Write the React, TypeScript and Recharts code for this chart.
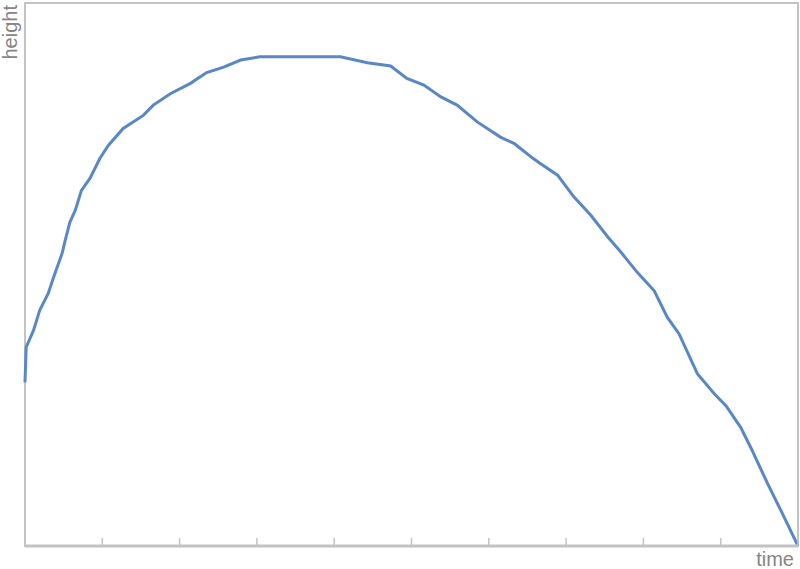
import React from 'react';
import { LineChart, Line, XAxis, YAxis, ReferenceArea } from 'recharts';

// values: time and height in 0..100 units
const times = [
  0, 0.15, 1.1, 1.9, 3.0, 3.7, 4.8, 5.2, 5.8, 6.5, 7.3, 8.4, 9.7, 10.8, 12.7, 15.3, 16.6, 18.8,
  21.4, 23.5, 25.7, 27.9, 30.4, 40.8, 44.3, 47.3, 49.4, 51.6, 53.8, 55.9, 58.5, 61.5, 63.3,
  64.1, 65.8, 66.7, 68.9, 71.0, 73.2, 75.4, 77.1, 79.2, 81.4, 83.1, 84.6, 87.0, 89.2, 90.7,
  92.6, 93.9, 96.1, 97.8, 100,
];
const heights = [
  30.1, 36.6, 39.7, 43.4, 46.5, 49.5, 53.9, 56.3, 59.6, 61.8, 65.5, 67.7, 71.4, 73.8, 76.9, 79.3,
  81.2, 83.3, 85.2, 87.2, 88.2, 89.5, 90.1, 90.1, 89.0, 88.4, 86.1, 84.9, 82.7, 81.2, 78.1,
  75.3, 74.1, 73.2, 71.3, 70.4, 68.3, 64.3, 60.9, 56.9, 54.1, 50.4, 47.0, 42.1, 39.1, 31.7,
  28.0, 25.8, 21.8, 18.1, 11.4, 6.5, 0,
];
const timeTicks = [0, 10, 20, 30, 40, 50, 60, 70, 80, 90, 100];

const data = times.map((t, i) => ({ time: t, height: heights[i] }));

const labelStyle = { fontFamily: '"Liberation Sans", Arial, sans-serif', fontSize: 20, fill: '#858585' };

// tick marks point up into the plot, no labels
const InnerTick = (props: any) => {
  const { x, y } = props;
  return <line x1={x} x2={x} y1={y} y2={y - 8} stroke="#c3c3c3" strokeWidth={1.5} />;
};

export default function App() {
  return (
    <div style={{ position: 'absolute', left: 0, top: 0, width: 800, height: 569, background: '#fff' }}>
      <LineChart width={800} height={569} data={data} margin={{ top: 3, right: 2, left: 25, bottom: 3 }}>
        <XAxis
          dataKey="time"
          type="number"
          domain={[0, 100]}
          ticks={timeTicks}
          interval={0}
          height={20}
          tickSize={0}
          tickMargin={0}
          tickLine={false}
          tick={<InnerTick />}
          axisLine={{ stroke: '#c3c3c3', strokeWidth: 3 }}
        />
        <YAxis
          type="number"
          domain={[0, 100]}
          width={0}
          tick={false}
          tickLine={false}
          axisLine={{ stroke: '#c3c3c3', strokeWidth: 3 }}
        />
        <ReferenceArea x1={0} x2={100} y1={0} y2={100} fill="none" stroke="#c3c3c3" strokeWidth={2} ifOverflow="visible" />
        <Line
          type="linear"
          dataKey="height"
          stroke="#5a87c6"
          strokeWidth={3}
          dot={false}
          isAnimationActive={false}
        />
        <text x={794} y={566} textAnchor="end" style={labelStyle}>time</text>
        <text x={17} y={5} textAnchor="end" transform="rotate(-90 17 5)" style={labelStyle}>height</text>
      </LineChart>
    </div>
  );
}
